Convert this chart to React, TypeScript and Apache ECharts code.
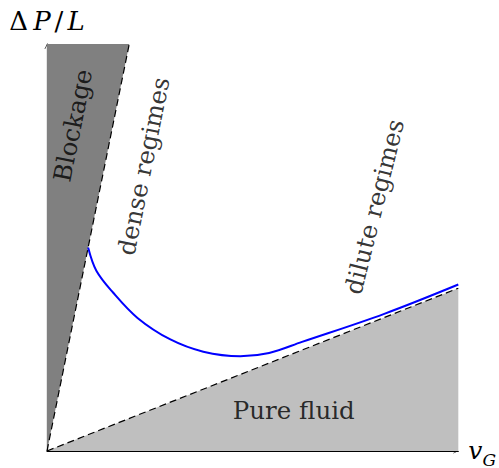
import React, { useEffect, useRef } from "react";
import * as echarts from "echarts";

// Boundary lines (data units: both axes 0..10)
const blockageLineX = [0, 2];
const blockageLineY = [0, 10];
const fluidLineX = [0, 10];
const fluidLineY = [0, 4];

// Blue regime curve
const curveX = [1.0, 1.2, 1.6, 2.2, 3.0, 3.8, 4.7, 5.4, 6.2, 8.2, 10];
const curveY = [5.0, 4.43, 3.9, 3.27, 2.74, 2.44, 2.33, 2.41, 2.68, 3.37, 4.09];

// Region labels
const regionLabels = ["Blockage", "dense regimes", "dilute regimes", "Pure fluid"];
const labelX = [0.63, 2.35, 7.96, 6.0];
const labelY = [8.0, 7.0, 6.0, 1.0];
const labelAngle = [78.7, 78.7, 76, 0];

const FONT = "DejaVu Serif";
const ARROW = "path://M0,10 L5,0 L10,10 L8.8,10 L5,2.4 L1.2,10 Z";

export default function App() {
  const ref = useRef<HTMLDivElement>(null);
  useEffect(() => {
    document.body.style.margin = "0";
    if (!ref.current) return;
    const chart = echarts.init(ref.current, null, { renderer: "svg" });
    const pairs = (xs: number[], ys: number[]) => xs.map((x, i) => [x, ys[i]]);
    const axisLine = {
      show: true,
      onZero: false,
      symbol: ["none", ARROW],
      symbolSize: [10, 5],
      symbolOffset: [0, -2.5],
      lineStyle: { color: "#000", width: 1.2 },
    };
    chart.setOption({
      animation: false,
      textStyle: { fontFamily: FONT },
      grid: { left: 47, right: 40, top: 44, bottom: 13, containLabel: false },
      xAxis: {
        type: "value",
        min: 0,
        max: 10,
        axisTick: { show: false },
        axisLabel: { show: false },
        splitLine: { show: false },
        axisLine,
        name: "{v|v}{g|G}",
        nameLocation: "end",
        nameGap: 10,
        nameTextStyle: {
          fontFamily: FONT,
          color: "#000",
          rich: {
            v: { fontFamily: FONT, fontStyle: "italic", fontSize: 25, lineHeight: 26, verticalAlign: "top", color: "#000" },
            g: { fontFamily: FONT, fontStyle: "italic", fontSize: 17, lineHeight: 18, padding: [13, 0, 0, 0], verticalAlign: "top", color: "#000" },
          },
        },
      },
      yAxis: {
        type: "value",
        min: 0,
        max: 10,
        axisTick: { show: false },
        axisLabel: { show: false },
        splitLine: { show: false },
        axisLine,
        name: "{d|Δ}{p|P}{s|/}{l|L}",
        nameLocation: "end",
        nameGap: 10,
        nameTextStyle: {
          fontFamily: FONT,
          color: "#000",
          rich: {
            d: { fontFamily: FONT, fontSize: 26, color: "#000", padding: [0, 5, 0, 0] },
            p: { fontFamily: FONT, fontStyle: "italic", fontSize: 26, color: "#000" },
            s: { fontFamily: FONT, fontSize: 26, color: "#000", padding: [0, 4, 0, 4] },
            l: { fontFamily: FONT, fontStyle: "italic", fontSize: 26, color: "#000" },
          },
        },
      },
      series: [
        {
          type: "line",
          data: pairs(blockageLineX, blockageLineY),
          symbol: "none",
          silent: true,
          lineStyle: { color: "#000", width: 1.2, type: [7, 4] },
          areaStyle: { color: "#808080", opacity: 1, origin: "end" },
          z: 1,
        },
        {
          type: "line",
          data: pairs(fluidLineX, fluidLineY),
          symbol: "none",
          silent: true,
          lineStyle: { color: "#000", width: 1.2, type: [7, 4] },
          areaStyle: { color: "#bfbfbf", opacity: 1, origin: "start" },
          z: 1,
        },
        {
          type: "line",
          data: pairs(curveX, curveY),
          symbol: "none",
          smooth: 0.35,
          silent: true,
          lineStyle: { color: "#0000ff", width: 2 },
          z: 3,
        },
        {
          type: "scatter",
          symbolSize: 0,
          silent: true,
          z: 4,
          data: labelX.map((x, i) => ({
            value: [x, labelY[i]],
            label: { rotate: labelAngle[i], formatter: regionLabels[i] },
          })),
          label: {
            show: true,
            position: "inside",
            fontFamily: FONT,
            fontSize: 24.5,
            color: "#000",
          },
        },
      ],
    });
    return () => chart.dispose();
  }, []);
  return <div ref={ref} style={{ width: 499, height: 468 }} />;
}
